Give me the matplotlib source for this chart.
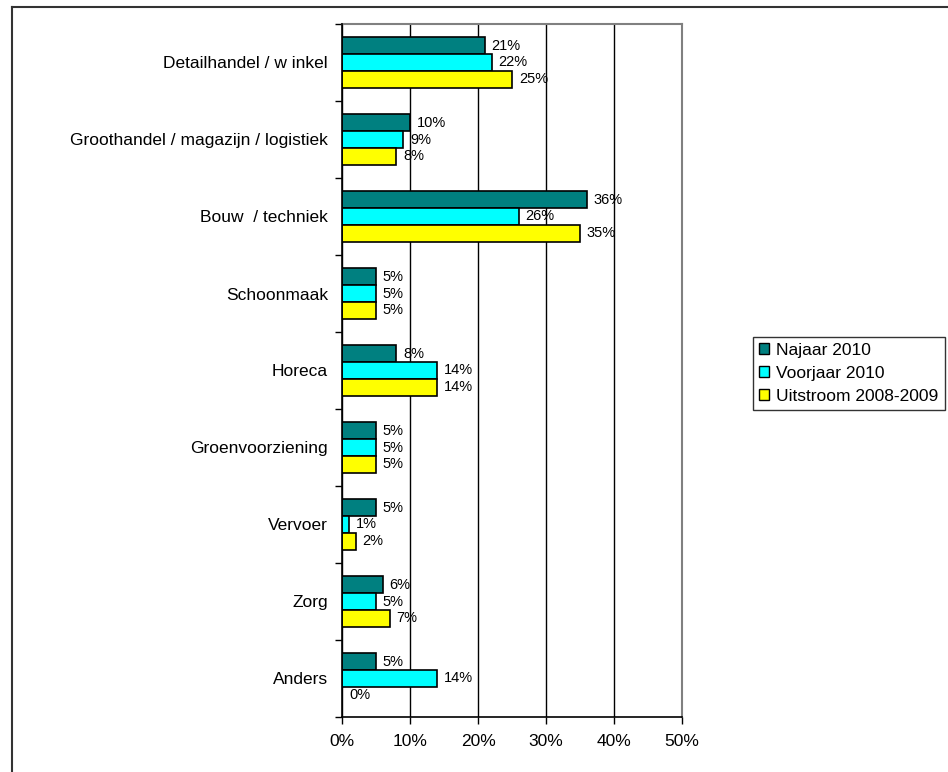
import matplotlib.pyplot as plt
from matplotlib.lines import Line2D
from matplotlib.patches import Patch
import numpy as np

plt.rcParams['font.family'] = ['Liberation Sans', 'DejaVu Sans']

categories = ['Detailhandel / w inkel', 'Groothandel / magazijn / logistiek', 'Bouw  / techniek',
              'Schoonmaak', 'Horeca', 'Groenvoorziening', 'Vervoer', 'Zorg', 'Anders']
najaar_2010 = [21, 10, 36, 5, 8, 5, 5, 6, 5]
voorjaar_2010 = [22, 9, 26, 5, 14, 5, 1, 5, 14]
uitstroom_0809 = [25, 8, 35, 5, 14, 5, 2, 7, 0]
series_names = ['Najaar 2010', 'Voorjaar 2010', 'Uitstroom 2008-2009']
colors = ['#008080', '#00FFFF', '#FFFF00']

fig = plt.figure(figsize=(9.48, 7.72), dpi=100)
ax = fig.add_axes([342 / 948, 1 - 717 / 772, 340 / 948, 693 / 772])

y = np.arange(len(categories))
h = 0.22
for k, (vals, col) in enumerate(zip([najaar_2010, voorjaar_2010, uitstroom_0809], colors)):
    pos = y + (k - 1) * h
    ax.barh(pos, vals, height=h, color=col, edgecolor='black', linewidth=1.2, zorder=3)
    for p, v in zip(pos, vals):
        ax.annotate(f'{v}%', (v, p), xytext=(5, 0), textcoords='offset points',
                    va='center', ha='left', fontsize=10.5)

ax.set_xlim(0, 50)
ax.set_ylim(len(categories) - 0.5, -0.5)
ax.set_xticks(np.arange(0, 51, 10))
ax.set_xticklabels([f'{t}%' for t in range(0, 51, 10)], fontsize=12.5)
ax.set_yticks(y)
ax.set_yticklabels(categories, fontsize=12.5)
ax.set_yticks(np.arange(-0.5, len(categories), 1), minor=True)
ax.tick_params(axis='y', which='major', length=0, pad=10)
ax.tick_params(axis='y', which='minor', length=5, direction='out', width=1)
ax.tick_params(axis='x', length=5, direction='out', width=1, pad=7)

ax.grid(axis='x', color='black', linewidth=1, zorder=0)
for s in ['top', 'right']:
    ax.spines[s].set_color('#808080')
    ax.spines[s].set_linewidth(1.5)
for s in ['left', 'bottom']:
    ax.spines[s].set_color('black')
    ax.spines[s].set_linewidth(1.2)
ax.spines['left'].set_zorder(4)

handles = [Patch(facecolor=c, edgecolor='black', linewidth=1) for c in colors]
leg = fig.legend(handles, series_names, loc='upper left', bbox_to_anchor=(753 / 948, 1 - 337 / 772),
                 fontsize=12.5, frameon=True, fancybox=False, handlelength=0.6, handleheight=0.6,
                 handletextpad=0.4, borderpad=0.35, labelspacing=0.45, borderaxespad=0)
leg.get_frame().set_edgecolor('black')
leg.get_frame().set_linewidth(1)

# outer chart border (top and left visible)
fig.add_artist(Line2D([12 / 948, 1], [1 - 7 / 772, 1 - 7 / 772], color='#333333', linewidth=1.5))
fig.add_artist(Line2D([12 / 948, 12 / 948], [0, 1 - 7 / 772], color='#333333', linewidth=1.5))

fig.savefig('out.png', dpi=100)
